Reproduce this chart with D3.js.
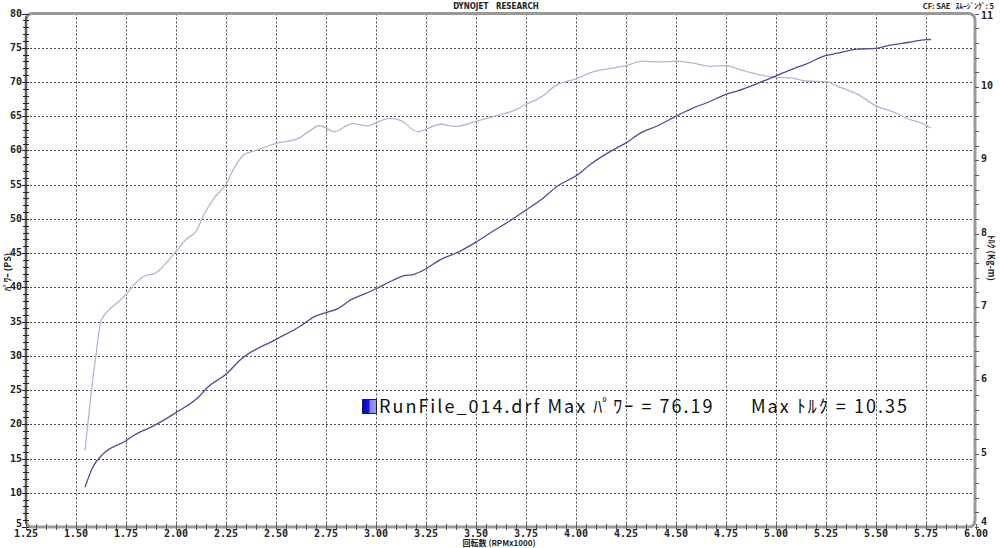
<!DOCTYPE html>
<html>
<head>
<meta charset="utf-8">
<script src="https://cdn.jsdelivr.net/npm/d3@7"></script>
<style>
  body { margin: 0; background: #fff; }
  svg { display: block; }
  text { white-space: pre; }
  .tick-lab { font-family: "DejaVu Sans Mono", monospace; font-weight: bold; font-size: 10px; fill: #222; }
</style>
</head>
<body>
<svg id="chart" width="1000" height="548"></svg>
<script>
// power curve (PS) vs rpm x1000
var powerRpm = [1.545, 1.583, 1.633, 1.75, 1.79, 1.89, 2.00, 2.117, 2.158, 2.25, 2.325, 2.50, 2.625, 2.69, 2.75, 2.81, 2.875, 2.94, 3.00, 3.083, 3.14, 3.19, 3.23, 3.325, 3.408, 3.50, 3.59, 3.658, 3.75, 3.825, 3.908, 4.00, 4.083, 4.175, 4.25, 4.325, 4.408, 4.50, 4.592, 4.658, 4.75, 4.808, 4.917, 5.00, 5.092, 5.15, 5.242, 5.308, 5.408, 5.50, 5.558, 5.667, 5.75, 5.775];
var powerPS = [10.8, 13.7, 15.6, 17.6, 18.4, 19.8, 21.7, 24.1, 25.4, 27.3, 29.5, 32.4, 34.4, 35.7, 36.3, 36.9, 38.2, 39.0, 39.8, 41.0, 41.7, 41.9, 42.4, 44.1, 45.1, 46.6, 48.3, 49.5, 51.3, 52.8, 54.8, 56.3, 58.2, 59.9, 61.1, 62.6, 63.6, 65.0, 66.3, 67.0, 68.2, 68.7, 69.9, 70.9, 72.0, 72.6, 73.8, 74.2, 74.8, 74.9, 75.3, 75.8, 76.19, 76.2];

// torque curve (Kg-m) vs rpm x1000
var torqueRpm = [1.545, 1.575, 1.60, 1.625, 1.658, 1.708, 1.75, 1.80, 1.85, 1.89, 1.958, 2.00, 2.05, 2.10, 2.142, 2.192, 2.25, 2.292, 2.342, 2.408, 2.50, 2.608, 2.658, 2.717, 2.792, 2.883, 2.95, 3.067, 3.125, 3.208, 3.325, 3.392, 3.50, 3.608, 3.683, 3.75, 3.825, 3.90, 4.00, 4.092, 4.192, 4.25, 4.333, 4.408, 4.50, 4.592, 4.667, 4.75, 4.825, 4.925, 5.00, 5.083, 5.15, 5.25, 5.325, 5.408, 5.50, 5.575, 5.675, 5.75, 5.775];
var torqueKgm = [5.04, 5.81, 6.35, 6.81, 6.94, 7.06, 7.17, 7.33, 7.43, 7.45, 7.62, 7.76, 7.92, 8.03, 8.27, 8.49, 8.67, 8.90, 9.08, 9.14, 9.23, 9.29, 9.38, 9.47, 9.39, 9.50, 9.47, 9.57, 9.54, 9.39, 9.49, 9.46, 9.53, 9.61, 9.67, 9.76, 9.86, 10.02, 10.11, 10.21, 10.26, 10.29, 10.35, 10.34, 10.35, 10.32, 10.28, 10.29, 10.23, 10.16, 10.13, 10.12, 10.08, 10.07, 9.99, 9.90, 9.74, 9.67, 9.55, 9.48, 9.44];

var rpmTicks = [1.25, 1.50, 1.75, 2.00, 2.25, 2.50, 2.75, 3.00, 3.25, 3.50, 3.75, 4.00, 4.25, 4.50, 4.75, 5.00, 5.25, 5.50, 5.75, 6.00];
var psTicks = [5, 10, 15, 20, 25, 30, 35, 40, 45, 50, 55, 60, 65, 70, 75, 80];
var kgmTicks = [4, 5, 6, 7, 8, 9, 10, 11];

var legendText = "RunFile_014.drf Max ﾊﾟﾜｰ = 76.19      Max ﾄﾙｸ = 10.35";

var svg = d3.select("#chart");
var L = 26, R = 975, T = 13.5, B = 527;

var x = d3.scaleLinear().domain([1.25, 6.0]).range([L, 976]);
var yL = d3.scaleLinear().domain([5, 80]).range([B, T]);
var yR = d3.scaleLinear().domain([4, 11]).range([B, T]);

//grid
var grid = svg.append("g")
  .attr("stroke", "#444")
  .attr("stroke-width", 1)
  .attr("stroke-dasharray", "2,2");
grid.selectAll("line.v")
  .data(rpmTicks.slice(1, -1))
  .enter().append("line")
  .attr("x1", d => Math.round(x(d)) + 0.5).attr("x2", d => Math.round(x(d)) + 0.5)
  .attr("y1", T).attr("y2", B);
grid.selectAll("line.h")
  .data(psTicks.slice(1, -1))
  .enter().append("line")
  .attr("y1", d => Math.round(yL(d)) + 0.5).attr("y2", d => Math.round(yL(d)) + 0.5)
  .attr("x1", L).attr("x2", R);

//frame with rounded corners
svg.append("path")
  .attr("d", "M" + L + "," + (T + 7) + " Q" + L + "," + T + " " + (L + 7) + "," + T +
    " H" + (R - 7) + " Q" + R + "," + T + " " + R + "," + (T + 7) +
    " V" + (B - 7) + " Q" + R + "," + B + " " + (R - 7) + "," + B +
    " H" + (L + 7) + " Q" + L + "," + B + " " + L + "," + (B - 7) + " Z")
  .attr("fill", "none")
  .attr("stroke", "#999")
  .attr("stroke-width", 3);

//left axis
var minorPS = d3.range(5, 80.01, 1);
var left = svg.append("g").attr("transform", "translate(" + L + ",0)");
left.append("line").attr("y1", T + 3).attr("y2", B - 3).attr("stroke", "#222");
left.selectAll("line.t")
  .data(minorPS)
  .enter().append("line")
  .attr("x1", d => d % 5 === 0 ? -4 : -3).attr("x2", 3)
  .attr("y1", d => Math.round(yL(d)) + 0.5).attr("y2", d => Math.round(yL(d)) + 0.5)
  .attr("stroke", "#222");
left.selectAll("text")
  .data(psTicks)
  .enter().append("text")
  .attr("class", "tick-lab")
  .attr("x", -4)
  .attr("y", d => d === 5 ? yL(d) : yL(d) + 3)
  .attr("text-anchor", "end")
  .text(d => d);

//bottom axis
var minorRpm = d3.range(1.25, 6.001, 0.05);
var bottom = svg.append("g").attr("transform", "translate(0," + B + ")");
bottom.selectAll("line")
  .data(minorRpm)
  .enter().append("line")
  .attr("x1", d => Math.round(x(d)) + 0.5).attr("x2", d => Math.round(x(d)) + 0.5)
  .attr("y1", -3).attr("y2", 3)
  .attr("stroke", "#555");
bottom.selectAll("text")
  .data(rpmTicks)
  .enter().append("text")
  .attr("class", "tick-lab")
  .attr("x", d => x(d))
  .attr("y", 10)
  .attr("text-anchor", "middle")
  .text(d => d3.format(".2f")(d));

//right axis
var minorKgm = d3.range(4, 11.001, 0.2);
var right = svg.append("g").attr("transform", "translate(" + R + ",0)");
right.selectAll("line")
  .data(minorKgm)
  .enter().append("line")
  .attr("x1", 0).attr("x2", 4)
  .attr("y1", d => Math.round(yR(d)) + 0.5).attr("y2", d => Math.round(yR(d)) + 0.5)
  .attr("stroke", "#555");
right.selectAll("text")
  .data(kgmTicks)
  .enter().append("text")
  .attr("class", "tick-lab")
  .attr("x", 6)
  .attr("y", d => d === 11 ? yR(d) + 5 : (d === 4 ? yR(d) - 2 : yR(d) + 2))
  .attr("text-anchor", "start")
  .text(d => d);

//curves
var torqueLine = d3.line()
  .x(d => x(d[0])).y(d => yR(d[1]))
  .curve(d3.curveMonotoneX);
svg.append("path")
  .datum(d3.zip(torqueRpm, torqueKgm))
  .attr("d", torqueLine)
  .attr("fill", "none")
  .attr("stroke", "#b4b4d6")
  .attr("stroke-width", 1.3);

var powerLine = d3.line()
  .x(d => x(d[0])).y(d => yL(d[1]))
  .curve(d3.curveMonotoneX);
svg.append("path")
  .datum(d3.zip(powerRpm, powerPS))
  .attr("d", powerLine)
  .attr("fill", "none")
  .attr("stroke", "#4e4e90")
  .attr("stroke-width", 1.3);

//titles
var small = "DejaVu Sans Condensed, DejaVu Sans, sans-serif";
svg.append("text")
  .attr("x", 496).attr("y", 8.5)
  .attr("text-anchor", "middle")
  .style("font-family", small).style("font-weight", "bold").style("font-size", "8px")
  .attr("fill", "#222")
  .text("DYNOJET   RESEARCH");
svg.append("text")
  .attr("x", 994).attr("y", 8.5)
  .attr("text-anchor", "end")
  .style("font-family", "Noto Sans CJK JP, sans-serif").style("font-weight", "bold").style("font-size", "7.5px")
  .attr("fill", "#222")
  .text("CF: SAE   ｽﾑｰｼﾞﾝｸﾞ: 5");
svg.append("text")
  .attr("x", 499).attr("y", 546)
  .attr("text-anchor", "middle")
  .style("font-family", "Noto Sans CJK JP, sans-serif").style("font-weight", "bold").style("font-size", "8px")
  .attr("fill", "#222")
  .text("回転数 (RPMx1000)");
svg.append("text")
  .attr("transform", "translate(11,272) rotate(-90)")
  .attr("text-anchor", "middle")
  .style("font-family", "Noto Sans CJK JP, sans-serif").style("font-weight", "bold").style("font-size", "9px")
  .attr("fill", "#222")
  .text("ﾊﾟﾜｰ (PS)");
svg.append("text")
  .attr("transform", "translate(988,258) rotate(90)")
  .attr("text-anchor", "middle")
  .style("font-family", "Noto Sans CJK JP, sans-serif").style("font-weight", "bold").style("font-size", "9px")
  .attr("fill", "#222")
  .text("ﾄﾙｸ (Kg-m)");

//legend
var grad = svg.append("defs").append("linearGradient").attr("id", "lg");
grad.append("stop").attr("offset", "0%").attr("stop-color", "#0000c8");
grad.append("stop").attr("offset", "45%").attr("stop-color", "#1818e0");
grad.append("stop").attr("offset", "55%").attr("stop-color", "#8080ff");
grad.append("stop").attr("offset", "100%").attr("stop-color", "#9a9aff");
svg.append("rect")
  .attr("x", 362.5).attr("y", 399.5).attr("width", 14).attr("height", 14)
  .attr("fill", "url(#lg)").attr("stroke", "#222");
svg.append("text")
  .attr("x", 379).attr("y", 413)
  .attr("textLength", 528).attr("lengthAdjust", "spacing")
  .style("font-family", "Noto Sans CJK JP, sans-serif").style("font-size", "18px")
  .attr("fill", "#111")
  .text(legendText);
</script>
</body>
</html>
